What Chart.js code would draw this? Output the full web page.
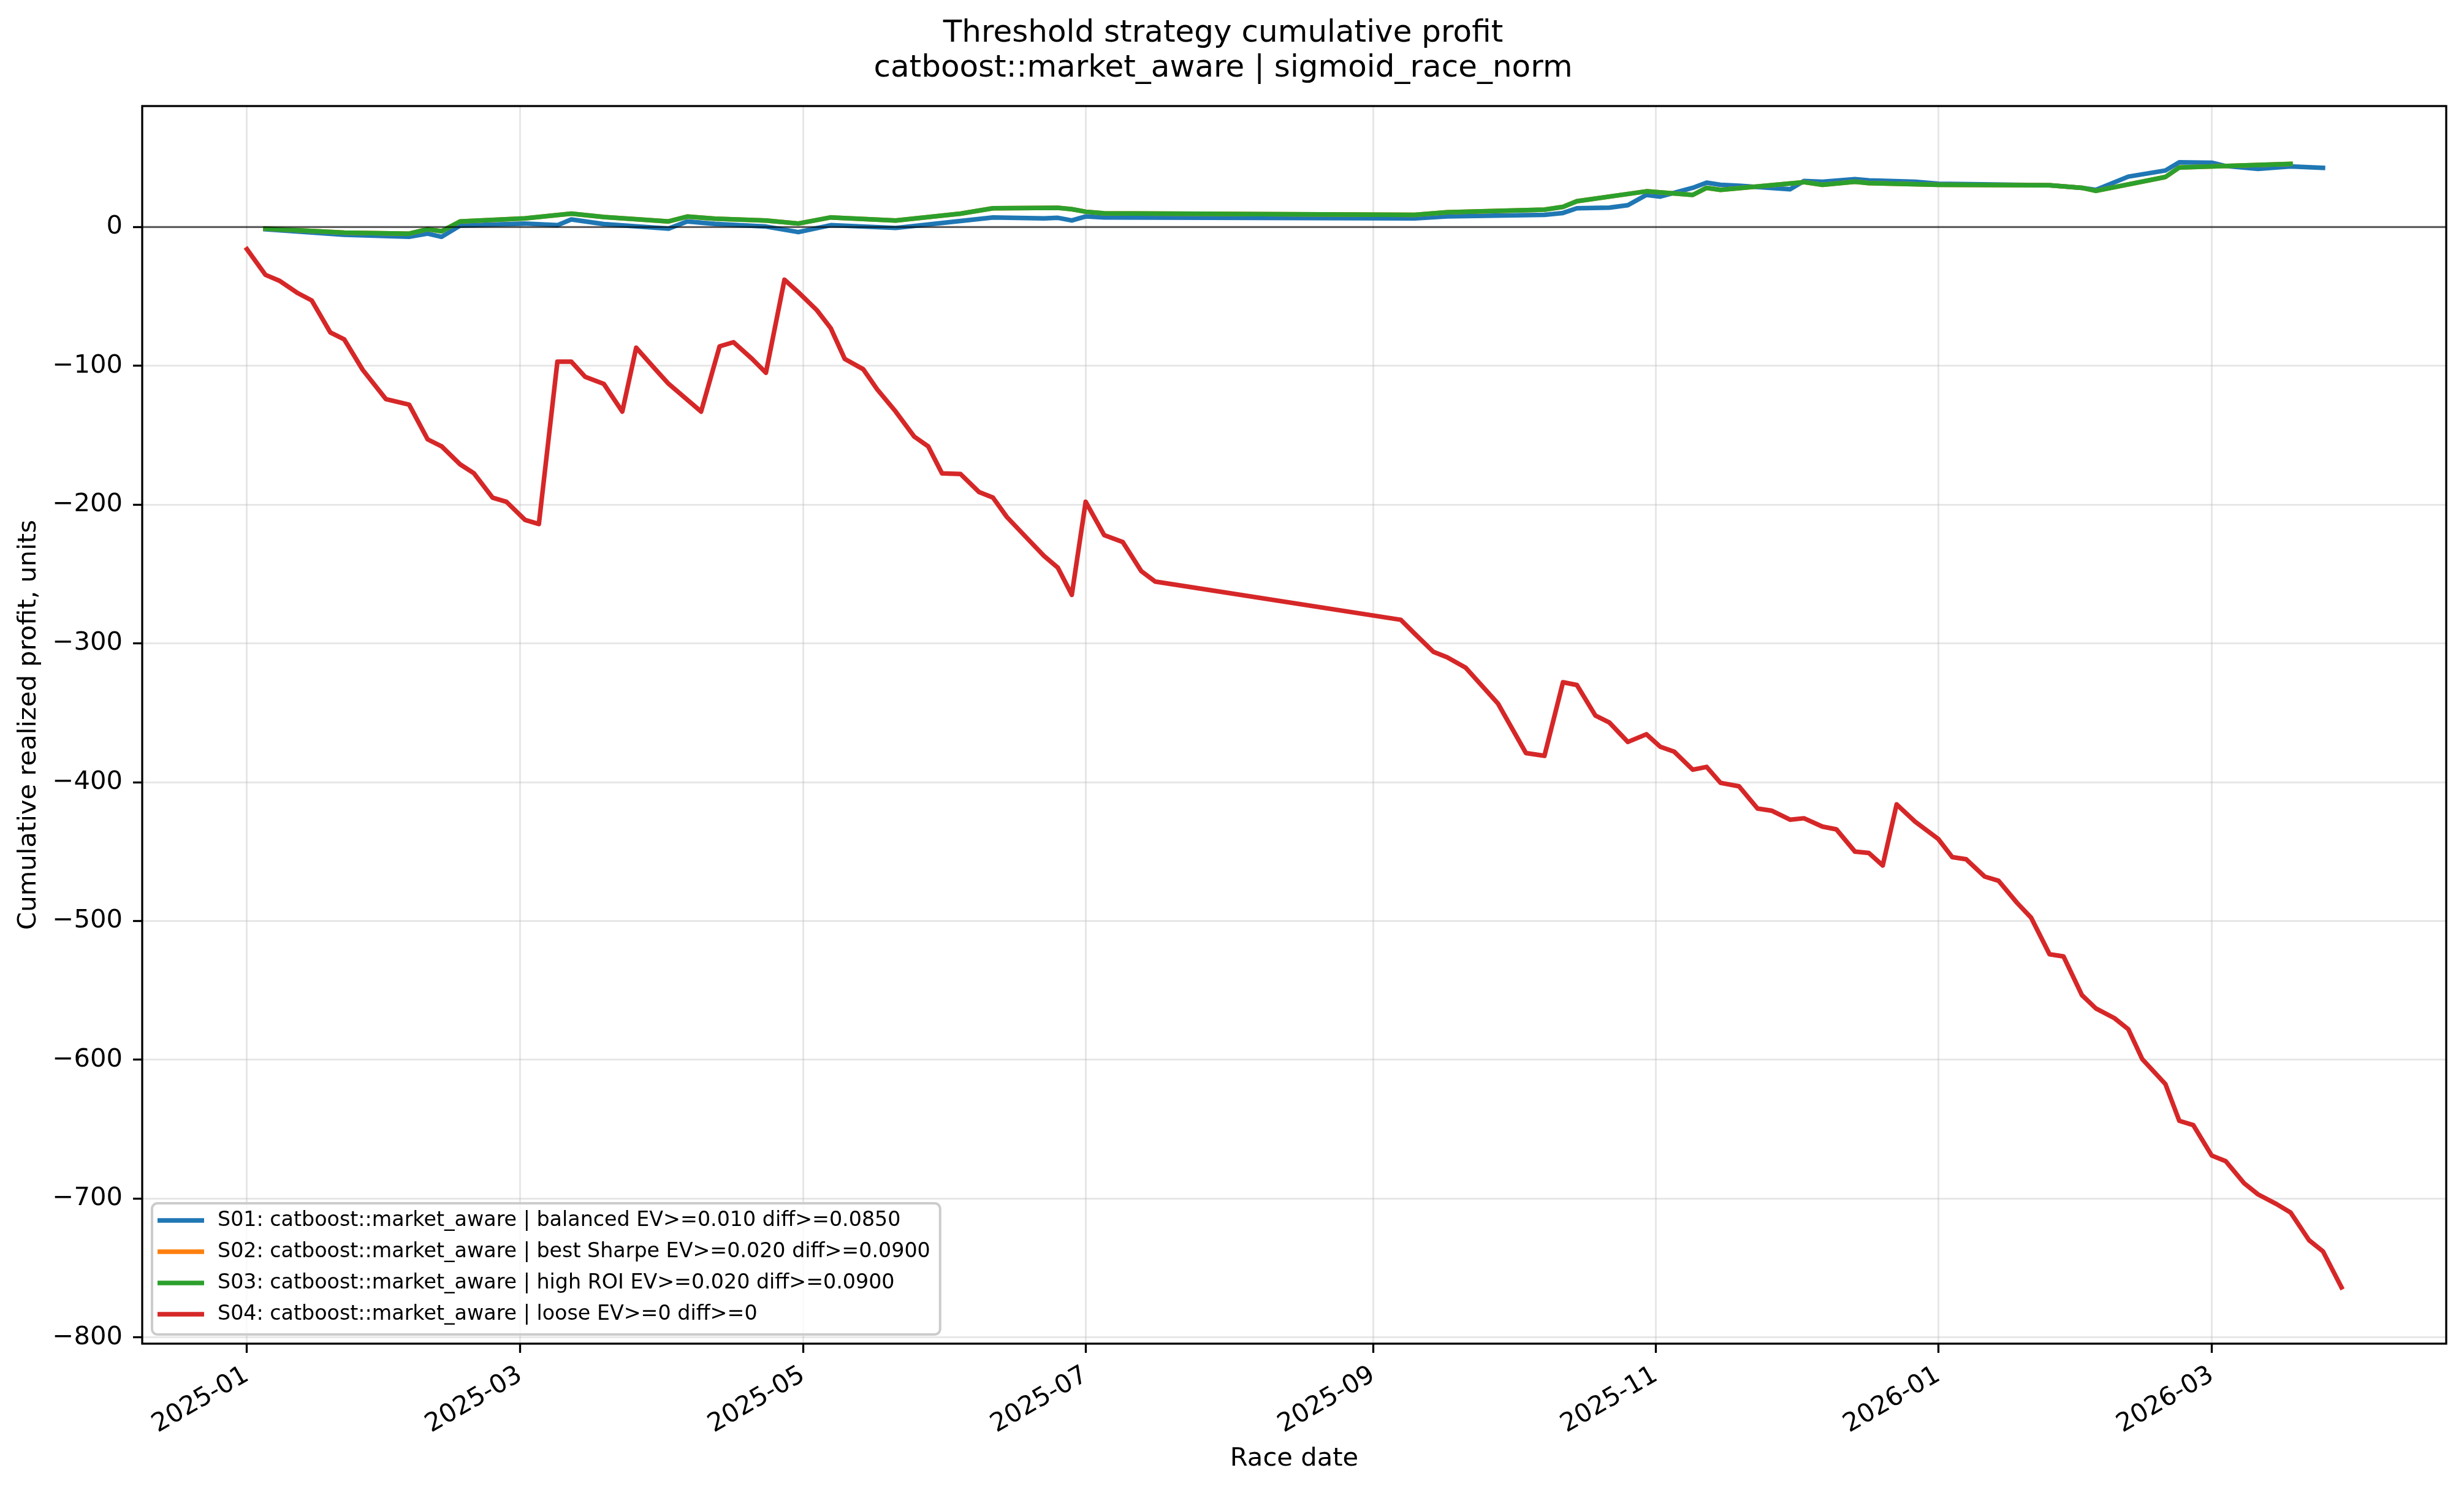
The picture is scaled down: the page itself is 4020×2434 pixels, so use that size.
<!DOCTYPE html>
<html>
<head>
<meta charset="utf-8">
<title>Threshold strategy cumulative profit</title>
<script src="https://cdn.jsdelivr.net/npm/chart.js@4.4.1/dist/chart.umd.min.js"></script>
<style>
  html, body { margin: 0; padding: 0; background: #ffffff; }
  #graph { display: block; }
</style>
</head>
<body>
<canvas id="graph" width="4020" height="2434"></canvas>
<script>
// ----------------------------------------------- textes ----------------------------------------------
var titre = ['Threshold strategy cumulative profit', 'catboost::market_aware | sigmoid_race_norm'];
var xLabel = 'Race date';
var yLabel = 'Cumulative realized profit, units';
var labels = [
    'S01: catboost::market_aware | balanced EV>=0.010 diff>=0.0850',
    'S02: catboost::market_aware | best Sharpe EV>=0.020 diff>=0.0900',
    'S03: catboost::market_aware | high ROI EV>=0.020 diff>=0.0900',
    'S04: catboost::market_aware | loose EV>=0 diff>=0'
];
var couleurs = ['#1f77b4', '#ff7f0e', '#2ca02c', '#d62728'];

// ticks
var xTickDates = ['2025-01-01', '2025-03-01', '2025-05-01', '2025-07-01', '2025-09-01', '2025-11-01', '2026-01-01', '2026-03-01'];
var yTicks = [-800, -700, -600, -500, -400, -300, -200, -100, 0];

// ----------------------------------------------- series ----------------------------------------------
var s01Dates = ['2025-01-05', '2025-01-22', '2025-02-05', '2025-02-09', '2025-02-12', '2025-02-16', '2025-03-02', '2025-03-09',
    '2025-03-12', '2025-03-19', '2025-04-02', '2025-04-06', '2025-04-12', '2025-04-23', '2025-04-30', '2025-05-07', '2025-05-21',
    '2025-06-04', '2025-06-11', '2025-06-22', '2025-06-25', '2025-06-28', '2025-07-01', '2025-07-05', '2025-09-10', '2025-09-17',
    '2025-10-08', '2025-10-12', '2025-10-15', '2025-10-22', '2025-10-26', '2025-10-30', '2025-11-02', '2025-11-09', '2025-11-12',
    '2025-11-15', '2025-11-19', '2025-11-30', '2025-12-03', '2025-12-07', '2025-12-14', '2025-12-17', '2025-12-27', '2026-01-01',
    '2026-01-25', '2026-02-01', '2026-02-04', '2026-02-11', '2026-02-19', '2026-02-22', '2026-03-01', '2026-03-04', '2026-03-11',
    '2026-03-18', '2026-03-25'];
var s01Values = [-1.6, -5.6, -7.1, -4.8, -7.1, 1.0, 2.5, 1.3,
    5.4, 2.1, -1.2, 4.0, 2.2, 0.3, -3.7, 1.3, -0.7,
    4.3, 6.9, 6.2, 6.6, 4.7, 7.6, 6.9, 6.2, 7.6,
    8.7, 10.1, 13.5, 13.9, 15.7, 23.1, 21.9, 28.2, 31.9,
    30.4, 29.7, 27.2, 33.1, 32.6, 34.5, 33.6, 32.6, 31.2,
    30.0, 28.2, 26.7, 36.3, 40.7, 46.6, 46.3, 43.9, 41.9,
    43.6, 42.6];

var s03Dates = ['2025-01-05', '2025-01-22', '2025-02-05', '2025-02-09', '2025-02-12', '2025-02-16', '2025-03-02', '2025-03-12',
    '2025-03-19', '2025-04-02', '2025-04-06', '2025-04-12', '2025-04-23', '2025-04-30', '2025-05-07', '2025-05-21', '2025-06-04',
    '2025-06-11', '2025-06-25', '2025-06-28', '2025-07-01', '2025-07-05', '2025-09-10', '2025-09-17', '2025-10-08', '2025-10-12',
    '2025-10-15', '2025-10-30', '2025-11-09', '2025-11-12', '2025-11-15', '2025-12-03', '2025-12-07', '2025-12-14', '2025-12-17',
    '2026-01-01', '2026-01-25', '2026-02-01', '2026-02-04', '2026-02-19', '2026-02-22', '2026-03-18'];
var s03Values = [-1.2, -4.1, -4.8, -1.6, -3.1, 4.0, 6.2, 9.6,
    7.2, 4.0, 7.5, 6.0, 4.7, 2.5, 6.9, 4.7, 9.6,
    13.5, 13.8, 12.8, 11.0, 9.8, 8.7, 10.6, 12.5, 14.5,
    18.6, 25.7, 23.1, 28.2, 26.7, 32.3, 30.4, 32.6, 31.6,
    30.4, 30.0, 28.2, 26.0, 36.0, 42.9, 45.4];

// S02 est confondue avec S03 sur l'image (cachee dessous)
var s02Dates = s03Dates;
var s02Values = s03Values;

var s04Dates = ['2025-01-01', '2025-01-05', '2025-01-08', '2025-01-12', '2025-01-15', '2025-01-19', '2025-01-22', '2025-01-26', '2025-01-31',
    '2025-02-05', '2025-02-09', '2025-02-12', '2025-02-16', '2025-02-19', '2025-02-23', '2025-02-26',
    '2025-03-02', '2025-03-05', '2025-03-09', '2025-03-12', '2025-03-15', '2025-03-19', '2025-03-23', '2025-03-26', '2025-03-30',
    '2025-04-02', '2025-04-09', '2025-04-13', '2025-04-16', '2025-04-20', '2025-04-23', '2025-04-27', '2025-04-30',
    '2025-05-04', '2025-05-07', '2025-05-10', '2025-05-14', '2025-05-17', '2025-05-21', '2025-05-25', '2025-05-28', '2025-05-31',
    '2025-06-04', '2025-06-08', '2025-06-11', '2025-06-14', '2025-06-18', '2025-06-22', '2025-06-25', '2025-06-28',
    '2025-07-01', '2025-07-05', '2025-07-09', '2025-07-13', '2025-07-16',
    '2025-09-07', '2025-09-10', '2025-09-14', '2025-09-17', '2025-09-21', '2025-09-28',
    '2025-10-04', '2025-10-08', '2025-10-12', '2025-10-15', '2025-10-19', '2025-10-22', '2025-10-26', '2025-10-30',
    '2025-11-02', '2025-11-05', '2025-11-09', '2025-11-12', '2025-11-15', '2025-11-19', '2025-11-23', '2025-11-26', '2025-11-30',
    '2025-12-03', '2025-12-07', '2025-12-10', '2025-12-14', '2025-12-17', '2025-12-20', '2025-12-23', '2025-12-27',
    '2026-01-01', '2026-01-04', '2026-01-07', '2026-01-11', '2026-01-14', '2026-01-18', '2026-01-21', '2026-01-25', '2026-01-28',
    '2026-02-01', '2026-02-04', '2026-02-08', '2026-02-11', '2026-02-14', '2026-02-19', '2026-02-22', '2026-02-25',
    '2026-03-01', '2026-03-04', '2026-03-08', '2026-03-11', '2026-03-15', '2026-03-18', '2026-03-22', '2026-03-25', '2026-03-29'];
var s04Values = [-16, -34.5, -38.7, -47.7, -53, -76, -81, -103, -124,
    -128, -153, -158, -171, -177.5, -195, -198,
    -211, -214, -97, -97, -108, -113, -133, -87, -102,
    -113, -133, -86, -83, -95, -105, -38, -47,
    -60, -73, -95, -102.5, -117, -133, -151, -158, -177.5,
    -178, -191, -195, -209, -223, -237, -245.5, -265,
    -198, -222, -227, -248, -255.5,
    -283, -293, -306, -310, -317.5, -343.5,
    -379, -381, -328, -330, -352, -357, -371, -365.5,
    -374.5, -378, -391, -389, -400.5, -403, -419, -420.5, -427,
    -426, -432, -434, -450, -451, -460, -416, -428.5,
    -441, -454, -455.5, -468, -471, -487, -497.5, -524, -525.5,
    -553.5, -563, -570, -578, -599.5, -617.5, -644, -647,
    -669, -673, -689, -697, -704, -710, -730, -738, -764];

// ----------------------------------------------- outils ----------------------------------------------
function jour(s) {
    var p = s.split('-');
    return Date.UTC(+p[0], +p[1] - 1, +p[2]);
}

function points(dates, values) {
    return dates.map(function (d, i) {
        return { x: jour(d), y: values[i] };
    });
}

// marge de 5% comme matplotlib
function limites(series, cle) {
    var mini = Infinity, maxi = -Infinity;
    series.forEach(function (s) {
        s.forEach(function (p) {
            mini = Math.min(mini, p[cle]);
            maxi = Math.max(maxi, p[cle]);
        });
    });
    var m = (maxi - mini) * 0.05;
    return [mini - m, maxi + m];
}

function formatY(v) {
    return v < 0 ? '\u2212' + Math.abs(v) : String(v);
}

var series = [
    points(s01Dates, s01Values),
    points(s02Dates, s02Values),
    points(s03Dates, s03Values),
    points(s04Dates, s04Values)
];
var xLim = limites(series, 'x');
var yLim = limites(series, 'y');

function TraitGraph(i) {
    return {
        label: labels[i],
        data: series[i],
        borderColor: couleurs[i],
        backgroundColor: couleurs[i],
        borderWidth: 7.5,
        pointRadius: 0,
        tension: 0,
        fill: false,
        borderJoinStyle: 'round',
        borderCapStyle: 'square',
        order: 4 - i // le dernier dessine par dessus
    };
}

// ligne du zero, cadre et legende dans le graphique
var decor = {
    id: 'decor',
    afterDatasetsDraw: function (chart) {
        var ctx = chart.ctx, a = chart.chartArea;
        var y0 = chart.scales.y.getPixelForValue(0);
        ctx.save();
        ctx.strokeStyle = 'rgba(0,0,0,0.6)';
        ctx.lineWidth = 3.3;
        ctx.beginPath();
        ctx.moveTo(a.left, y0);
        ctx.lineTo(a.right, y0);
        ctx.stroke();
        ctx.restore();
    },
    afterDraw: function (chart) {
        var ctx = chart.ctx, a = chart.chartArea;
        ctx.save();
        ctx.strokeStyle = '#000';
        ctx.lineWidth = 3.3;
        ctx.strokeRect(a.left, a.top, a.right - a.left, a.bottom - a.top);

        var fs = 33.3;
        ctx.font = fs + 'px "DejaVu Sans"';
        var largeur = 0;
        labels.forEach(function (t) { largeur = Math.max(largeur, ctx.measureText(t).width); });
        var h = 214;
        var bx = a.left + 16, by = a.bottom - 15 - h;
        var bw = 107 + largeur + 16;
        ctx.beginPath();
        ctx.roundRect(bx, by, bw, h, 9);
        ctx.fillStyle = 'rgba(255,255,255,0.8)';
        ctx.fill();
        ctx.strokeStyle = '#cccccc';
        ctx.lineWidth = 4;
        ctx.stroke();

        ctx.textBaseline = 'middle';
        ctx.textAlign = 'left';
        for (var i = 0; i < labels.length; i++) {
            var ly = by + 28 + i * 51;
            ctx.strokeStyle = couleurs[i];
            ctx.lineWidth = 7.5;
            ctx.lineCap = 'butt';
            ctx.beginPath();
            ctx.moveTo(bx + 9, ly);
            ctx.lineTo(bx + 85, ly);
            ctx.stroke();
            ctx.fillStyle = '#000';
            ctx.fillText(labels[i], bx + 107, ly);
        }
        ctx.restore();
    }
};

Chart.defaults.font.family = '"DejaVu Sans", sans-serif';
Chart.defaults.color = '#000';

function AfficheGraph() {
    return new Chart(document.getElementById('graph').getContext('2d'), {
        type: 'line',
        data: {
            datasets: [TraitGraph(0), TraitGraph(1), TraitGraph(2), TraitGraph(3)]
        },
        options: {
            responsive: false,
            animation: false,
            devicePixelRatio: 1,
            layout: { padding: { left: 0, right: 29, top: 0, bottom: 0 } },
            plugins: {
                legend: { display: false },
                tooltip: { enabled: false },
                title: {
                    display: true,
                    text: titre,
                    color: '#000',
                    font: { size: 50, weight: 'normal', lineHeight: 1.15 },
                    padding: { top: 26, bottom: 32 }
                }
            },
            scales: {
                x: {
                    type: 'linear',
                    bounds: 'data',
                    min: xLim[0],
                    max: xLim[1],
                    afterBuildTicks: function (s) {
                        s.ticks = xTickDates.map(function (d) { return { value: jour(d) }; });
                    },
                    afterFit: function (s) { s.height = 242; },
                    border: { display: false },
                    grid: {
                        color: 'rgba(176,176,176,0.3)',
                        lineWidth: 3,
                        tickColor: '#000',
                        tickWidth: 3.3,
                        tickLength: 15
                    },
                    ticks: {
                        autoSkip: false,
                        minRotation: 30,
                        maxRotation: 30,
                        padding: 12,
                        color: '#000',
                        font: { size: 41.7 },
                        callback: function (v) { return new Date(v).toISOString().slice(0, 7); }
                    },
                    title: {
                        display: true,
                        text: xLabel,
                        color: '#000',
                        font: { size: 41.7 },
                        padding: { top: 0, bottom: 29 }
                    }
                },
                y: {
                    type: 'linear',
                    bounds: 'data',
                    min: yLim[0],
                    max: yLim[1],
                    afterBuildTicks: function (s) {
                        s.ticks = yTicks.map(function (v) { return { value: v }; });
                    },
                    afterFit: function (s) { s.width = 232; },
                    border: { display: false },
                    grid: {
                        color: 'rgba(176,176,176,0.3)',
                        lineWidth: 3,
                        tickColor: '#000',
                        tickWidth: 3.3,
                        tickLength: 15
                    },
                    ticks: {
                        padding: 17,
                        color: '#000',
                        font: { size: 41.7 },
                        callback: formatY
                    },
                    title: {
                        display: true,
                        text: yLabel,
                        color: '#000',
                        font: { size: 41.7 },
                        padding: { top: 22, bottom: 0 }
                    }
                }
            }
        },
        plugins: [decor]
    });
}

AfficheGraph();
</script>
</body>
</html>
